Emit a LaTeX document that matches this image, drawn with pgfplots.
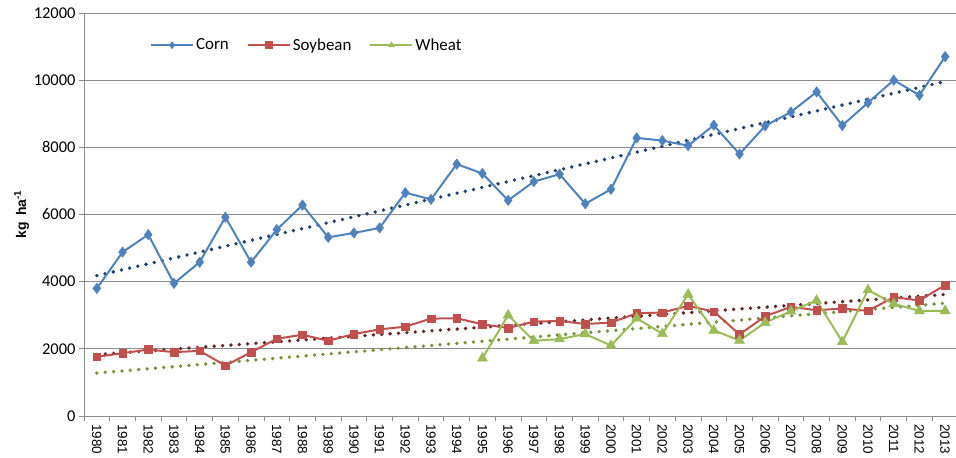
\documentclass[border=0pt]{standalone}
\usepackage{pgfplots}
\pgfplotsset{compat=1.18}
\usepackage{fontspec}
\setmainfont{Carlito}
\newfontfamily\arialf{Liberation Sans}
\definecolor{cornc}{HTML}{4F81BD}
\definecolor{soyc}{HTML}{C0504D}
\definecolor{wheatc}{HTML}{9BBB59}
\definecolor{corntr}{HTML}{1F3F6E}
\definecolor{soytr}{HTML}{632523}
\definecolor{wheattr}{HTML}{77933C}
\definecolor{gridc}{HTML}{8C8C8C}
\begin{document}
\begin{tikzpicture}
\begin{axis}[
  at={(84bp,42bp)}, anchor=south west,
  scale only axis, width=874bp, height=403bp,
  xmin=1979.5, xmax=2013.5, ymin=0, ymax=12000,
  axis lines*=left,
  axis line style={gridc, line width=0.8bp},
  xtick={1980,...,2013},
  minor xtick={1979.5,1980.5,...,2013.5},
  major x tick style={draw=none},
  minor tick length=5bp,
  major tick length=5bp,
  tick align=outside,
  tick style={gridc, line width=0.8bp},
  ytick={0,2000,...,12000},
  scaled y ticks=false,
  ymajorgrids,
  grid style={gridc, line width=0.8bp},
  /pgf/number format/1000 sep={},
  /pgf/number format/assume math mode=true,
  xticklabel style={rotate=-90, anchor=west, font=\arialf\fontsize{13.5}{13.5}\selectfont, xshift=0bp},
  yticklabel style={font=\fontsize{16.5}{16.5}\selectfont},
  ylabel={\arialf\bfseries kg\, ha\textsuperscript{-1}},
  ylabel style={font=\fontsize{14}{14}\selectfont, yshift=-2bp},
  legend style={at={(0.072,0.92)}, anchor=west, draw=none, fill=none,
    legend columns=3, font=\fontsize{17}{17}\selectfont,
    /tikz/every even column/.append style={column sep=16bp}},
  legend image code/.code={\draw[mark repeat=2,mark phase=2,#1,mark size=3.5bp] plot coordinates {(0bp,0bp) (21bp,0bp) (42bp,0bp)};},
]
% trend lines
\addplot[forget plot, corntr, line width=3.8bp, line cap=round, dash pattern=on 0bp off 8.4bp] coordinates {(1980,4180) (2013,9960)};
\addplot[forget plot, soytr, line width=3.8bp, line cap=round, dash pattern=on 0bp off 8.4bp] coordinates {(1980,1830) (2013,3620)};
\addplot[forget plot, wheattr, line width=3.8bp, line cap=round, dash pattern=on 0bp off 8.4bp] coordinates {(1980,1280) (2013,3360)};
% data
\addplot[cornc, line width=2bp, mark=diamond*, mark size=5.2bp, mark options={fill=cornc, line width=0.5bp}] coordinates {
(1980,3800) (1981,4880) (1982,5400) (1983,3950) (1984,4580) (1985,5920) (1986,4580) (1987,5550) (1988,6280) (1989,5320)
(1990,5450) (1991,5600) (1992,6650) (1993,6450) (1994,7500) (1995,7220) (1996,6420) (1997,6980) (1998,7200) (1999,6320)
(2000,6750) (2001,8280) (2002,8200) (2003,8050) (2004,8660) (2005,7800) (2006,8640) (2007,9050) (2008,9650) (2009,8650)
(2010,9330) (2011,10000) (2012,9550) (2013,10700)};
\addlegendentry{Corn}
\addplot[soyc, line width=2bp, mark=square*, mark size=3.8bp, mark options={fill=soyc, line width=0.5bp}] coordinates {
(1980,1760) (1981,1870) (1982,1980) (1983,1900) (1984,1940) (1985,1500) (1986,1900) (1987,2300) (1988,2420) (1989,2240)
(1990,2440) (1991,2580) (1992,2660) (1993,2900) (1994,2910) (1995,2730) (1996,2620) (1997,2810) (1998,2830) (1999,2740)
(2000,2780) (2001,3060) (2002,3080) (2003,3280) (2004,3110) (2005,2430) (2006,2970) (2007,3250) (2008,3150) (2009,3200)
(2010,3130) (2011,3540) (2012,3440) (2013,3900)};
\addlegendentry{Soybean}
\addplot[wheatc, line width=2bp, mark=triangle*, mark size=5.8bp, mark options={fill=wheatc, line width=0.5bp}] coordinates {
(1995,1720) (1996,3000) (1997,2240) (1998,2290) (1999,2440) (2000,2100) (2001,2910) (2002,2450) (2003,3620) (2004,2550)
(2005,2250) (2006,2780) (2007,3120) (2008,3440) (2009,2210) (2010,3750) (2011,3340) (2012,3130) (2013,3130)};
\addlegendentry{Wheat}
\end{axis}
\pgfresetboundingbox
\path (0bp,0bp) rectangle (956bp,458bp);
\end{tikzpicture}
\end{document}
